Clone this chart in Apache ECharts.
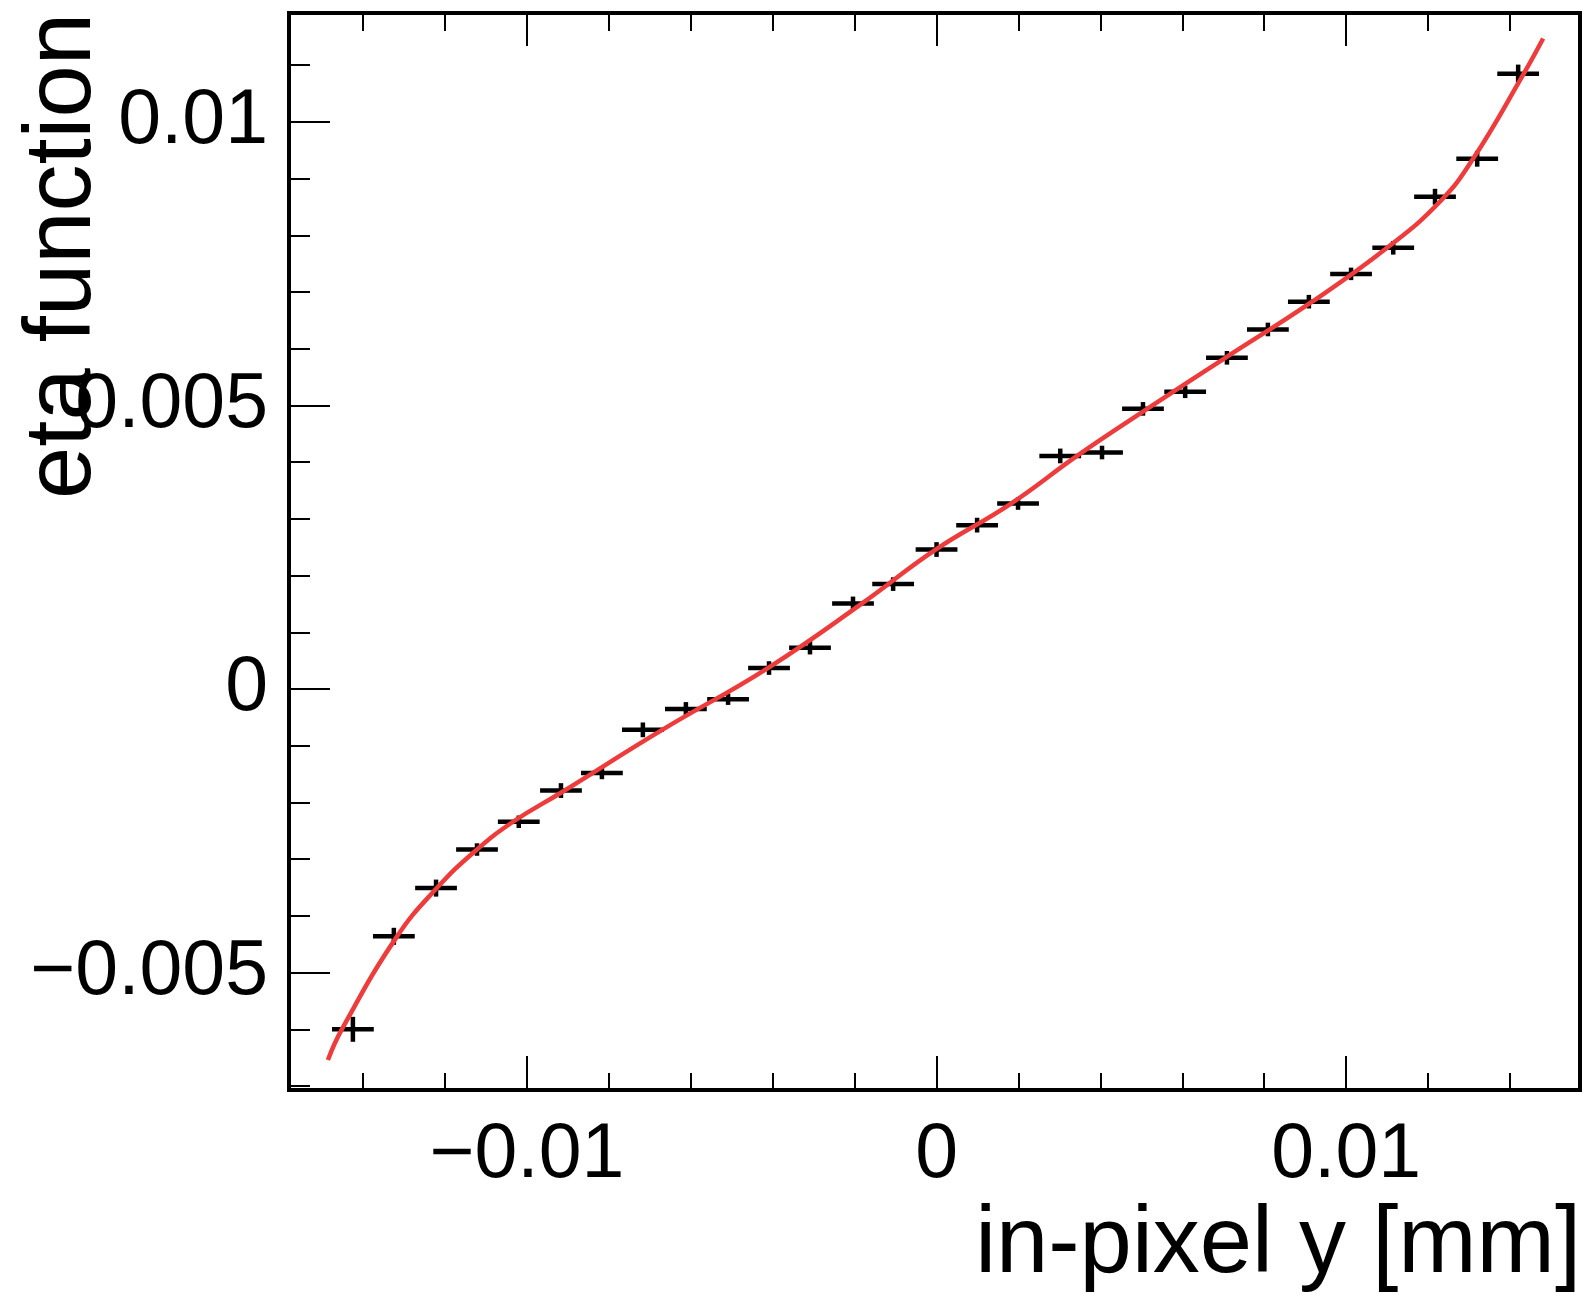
<!DOCTYPE html>
<html>
<head>
<meta charset="utf-8">
<script src="https://cdn.jsdelivr.net/npm/echarts@6/dist/echarts.min.js"></script>
<style>
html,body{margin:0;padding:0;background:#fff;}
#chart{width:1594px;height:1298px;}
</style>
</head>
<body>
<div id="chart"></div>
<script>
// ---- data ----
const xCenters = [-0.01425, -0.01325, -0.01222, -0.01122, -0.01020, -0.00917, -0.00817, -0.00717, -0.00612, -0.00509,
                  -0.00409, -0.00309, -0.00204, -0.00106, 0.00000, 0.00099, 0.00199, 0.00302, 0.00404, 0.00504,
                  0.00607, 0.00709, 0.00809, 0.00909, 0.01012, 0.01115, 0.01217, 0.01320, 0.01420];
const etaValues = [-0.00600, -0.00436, -0.00351, -0.00283, -0.00234, -0.00179, -0.00148, -0.00072, -0.00035, -0.00018,
                   0.00037, 0.00073, 0.00151, 0.00185, 0.00246, 0.00289, 0.00327, 0.00411, 0.00417, 0.00494,
                   0.00524, 0.00584, 0.00634, 0.00683, 0.00732, 0.00778, 0.00868, 0.00935, 0.01085];
const etaErrors = [0.00022, 0.00015, 0.00015, 0.00011, 0.00011, 0.00013, 0.00011, 0.00013, 0.00012, 0.00010,
                   0.00012, 0.00012, 0.00012, 0.00012, 0.00013, 0.00013, 0.00011, 0.00013, 0.00012, 0.00012,
                   0.00011, 0.00012, 0.00012, 0.00012, 0.00011, 0.00012, 0.00014, 0.00014, 0.00016];
const binHalfWidth = 0.00051;
// fit curve
const fitX = [-0.01486, -0.01452, -0.01318, -0.01220, -0.01127, -0.01034, -0.00915, -0.00670, -0.00412, -0.00180,
              -0.00004, 0.00180, 0.00343, 0.00504, 0.00705, 0.00917, 0.01100, 0.01230, 0.01310, 0.01432, 0.01481];
const fitY = [-0.00654, -0.00600, -0.00437, -0.00351, -0.00286, -0.00234, -0.00182, -0.00072, 0.00037, 0.00152,
              0.00245, 0.00326, 0.00411, 0.00489, 0.00584, 0.00683, 0.00778, 0.00860, 0.00935, 0.01083, 0.01147];
// axes
const xRange = [-0.01581, 0.01571];
const yRange = [-0.00707, 0.01192];
const xMajorTicks = [-0.01, 0, 0.01];
const xMinorTicks = [-0.014, -0.012, -0.008, -0.006, -0.004, -0.002, 0.002, 0.004, 0.006, 0.008, 0.012, 0.014];
const yMajorTicks = [-0.005, 0, 0.005, 0.01];
const yMinorTicks = [-0.007, -0.006, -0.004, -0.003, -0.002, -0.001, 0.001, 0.002, 0.003, 0.004,
                     0.006, 0.007, 0.008, 0.009, 0.011];
const xTickLabels = {'-0.01': '\u22120.01', '0': '0', '0.01': '0.01'};
const yTickLabels = {'-0.005': '\u22120.005', '0': '0', '0.005': '0.005', '0.01': '0.01'};
const xTitle = 'in-pixel y [mm]';
const yTitle = 'eta function';

// ---- chart ----
const FONT = "'Liberation Sans', Arial, Helvetica, sans-serif";
const chart = echarts.init(document.getElementById('chart'), null, {renderer: 'canvas'});

function xAxisDef(position, ticks, len, labels) {
  return {
    type: 'value', gridIndex: 0, position: position, min: xRange[0], max: xRange[1],
    axisLine: {show: false, onZero: false},
    splitLine: {show: false},
    axisTick: {show: true, inside: true, length: len, customValues: ticks,
               lineStyle: {color: '#000', width: 2}},
    axisLabel: labels ? {
      show: true, customValues: xMajorTicks, margin: 27, color: '#000',
      fontSize: 77, fontFamily: FONT,
      formatter: v => xTickLabels[String(Math.round(v * 1000) / 1000)] ?? ''
    } : {show: false}
  };
}
function yAxisDef(ticks, len, labels) {
  return {
    type: 'value', gridIndex: 0, position: 'left', min: yRange[0], max: yRange[1],
    axisLine: {show: false, onZero: false},
    splitLine: {show: false},
    axisTick: {show: true, inside: true, length: len, customValues: ticks,
               lineStyle: {color: '#000', width: 2}},
    axisLabel: labels ? {
      show: true, customValues: yMajorTicks, margin: 21, color: '#000',
      fontSize: 77, fontFamily: FONT,
      formatter: v => yTickLabels[String(Math.round(v * 1000) / 1000)] ?? ''
    } : {show: false}
  };
}

const option = {
  animation: false,
  backgroundColor: '#fff',
  grid: {
    left: 289, top: 13, width: 1291, height: 1077,
    show: true, borderColor: '#000', borderWidth: 4, backgroundColor: 'transparent',
    containLabel: false, outerBoundsMode: 'none'
  },
  xAxis: [
    xAxisDef('bottom', xMajorTicks, 34, true),
    xAxisDef('bottom', xMinorTicks, 17, false),
    xAxisDef('top', xMajorTicks, 33, false),
    xAxisDef('top', xMinorTicks, 18, false)
  ],
  yAxis: [
    yAxisDef(yMajorTicks, 41, true),
    yAxisDef(yMinorTicks, 21, false)
  ],
  graphic: [
    {type: 'text', x: 1581, y: 1246, z: 100,
     style: {text: xTitle, fill: '#000', fontSize: 94, fontFamily: FONT, align: 'right', verticalAlign: 'middle'}},
    {type: 'text', x: 64, y: 13, rotation: Math.PI / 2, z: 100,
     style: {text: yTitle, fill: '#000', fontSize: 94, fontFamily: FONT, align: 'right', verticalAlign: 'middle'}}
  ],
  series: [
    {
      type: 'custom', name: 'eta', xAxisIndex: 0, yAxisIndex: 0, z: 2,
      data: xCenters.map((x, i) => [x, etaValues[i], etaErrors[i], binHalfWidth]),
      renderItem: function (params, api) {
        const x = api.value(0), y = api.value(1), e = api.value(2), h = api.value(3);
        const l = api.coord([x - h, y]), r = api.coord([x + h, y]);
        const t = api.coord([x, y + e]), b = api.coord([x, y - e]);
        const st = {stroke: '#000', lineWidth: 4.5};
        return {type: 'group', children: [
          {type: 'line', shape: {x1: l[0], y1: l[1], x2: r[0], y2: r[1]}, style: st},
          {type: 'line', shape: {x1: t[0], y1: t[1], x2: b[0], y2: b[1]}, style: st}
        ]};
      }
    },
    {
      type: 'line', name: 'fit', xAxisIndex: 0, yAxisIndex: 0, z: 5,
      data: fitX.map((x, i) => [x, fitY[i]]),
      showSymbol: false, smooth: 0.45,
      lineStyle: {color: '#ee3b3b', width: 4.5}
    }
  ]
};
chart.setOption(option);
</script>
</body>
</html>
